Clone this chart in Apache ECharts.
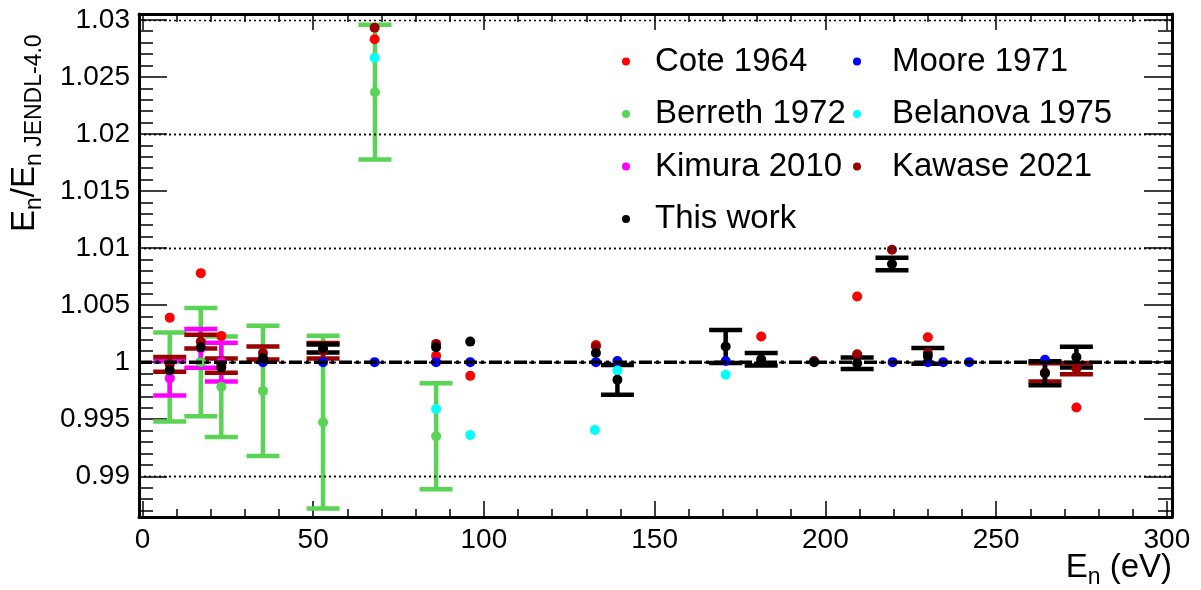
<!DOCTYPE html>
<html>
<head>
<meta charset="utf-8">
<script src="https://cdn.jsdelivr.net/npm/echarts@6/dist/echarts.min.js"></script>
<style>
  html, body { margin: 0; padding: 0; background: #fff; }
  #chart { width: 1201px; height: 590px; }
</style>
</head>
<body>
<div id="chart"></div>
<script>
// En / En(JENDL-4.0) ratio vs neutron energy

// Cote 1964
const coteE = [8.0, 17.1, 23.1, 68.0, 86.0, 96.0, 132.8, 181.2, 209.3, 230.0, 273.5];
const coteR = [1.0039, 1.0078, 1.0023, 1.0283, 1.00055, 0.9988, 1.0015, 1.00225, 1.00576, 1.00219, 0.99602];
// Moore 1971
const mooreE = [17.1, 35.3, 52.9, 68.0, 86.0, 96.0, 132.8, 139.1, 170.8, 219.7, 230.0, 234.5, 242.1, 264.3];
const mooreR = [1.0, 1.0, 1.0, 1.0, 1.0, 1.0, 1.0, 1.0001, 1.0001, 1.0, 1.0, 1.0, 1.0, 1.0002];
// Berreth 1972
const berrethE = [8.0, 17.1, 23.1, 35.3, 52.9, 68.1, 86.0];
const berrethR = [0.9987, 1.0000, 0.99785, 0.99748, 0.99474, 1.02366, 0.99351];
const berrethErr = [0.0039, 0.00475, 0.0044, 0.0057, 0.00757, 0.0059, 0.00465];
// Belanova 1975
const belanovaE = [68.0, 86.0, 96.0, 132.5, 139.1, 170.8];
const belanovaR = [1.02667, 0.9959, 0.99362, 0.99406, 0.99926, 0.99889];
// Kimura 2010
const kimuraE = [8.0, 17.1, 23.1];
const kimuraR = [0.99858, 1.0012, 1.0000];
const kimuraErr = [0.0015, 0.0017, 0.0017];
// Kawase 2021
const kawaseE = [8.0, 17.1, 23.1, 35.3, 52.9, 68.0, 86.0, 132.8, 196.7, 209.3, 219.5, 230.0, 264.3, 273.5];
const kawaseR = [0.9998, 1.0018, 0.9997, 1.0008, 1.0010, 1.0293, 1.0016, 1.0014, 1.0001, 1.0007, 1.00985, 1.0008, 0.9991, 0.99943];
const kawaseErr = [0.00065, 0.0006, 0.00063, 0.00057, 0.00068, 0, 0, 0, 0, 0, 0, 0, 0.0008, 0.0005];
// This work
const thisE = [8.0, 17.1, 23.1, 35.3, 52.9, 86.0, 96.0, 132.8, 139.1, 170.8, 181.2, 196.7, 209.3, 219.5, 230.0, 264.3, 273.5];
const thisR = [0.9993, 1.0013, 0.99953, 1.00035, 1.0012, 1.0013, 1.0018, 1.0008, 0.99845, 1.00137, 1.00026, 1.0, 0.9999, 1.0086, 1.00055, 0.99903, 1.00044];
const thisErr = [0, 0, 0, 0, 0.00035, 0, 0, 0, 0.0013, 0.00145, 0.00055, 0, 0.0005, 0.00054, 0.0007, 0.00105, 0.0009];

// axes
const xMin = -1, xMax = 301.5;
const yMin = 0.98643, yMax = 1.03051;
const xMajor = [0, 50, 100, 150, 200, 250, 300];
const yMajor = [0.99, 0.995, 1, 1.005, 1.01, 1.015, 1.02, 1.025, 1.03];
const refValue = 1;

let xMinor = [];
for (let i = 0; i <= 300; i += 10) {
  if (i % 50 !== 0) xMinor.push(i);
}
let yMinor = [];
for (let i = 987; i <= 1030; i++) {
  if (i % 5 !== 0) yMinor.push(i / 1000);
}

const FONT = 'Liberation Sans';

function pairs(xs, ys, es) {
  return xs.map((x, i) => es ? [x, ys[i], es[i]] : [x, ys[i]]);
}

function xAx(pos, ticks, len, label, line) {
  return {
    type: 'value', position: pos, min: xMin, max: xMax,
    axisLine: { show: line, onZero: false, lineStyle: { color: '#000', width: 3 } },
    axisTick: { show: true, inside: true, length: len, customValues: ticks, lineStyle: { color: '#000', width: 1.5 } },
    axisLabel: label ? { show: true, customValues: ticks, color: '#000', fontSize: 28, fontFamily: FONT, margin: 9 } : { show: false },
    splitLine: { show: false }
  };
}

function yAx(pos, ticks, len, label, line) {
  return {
    type: 'value', position: pos, min: yMin, max: yMax,
    axisLine: { show: line, onZero: false, lineStyle: { color: '#000', width: 3 } },
    axisTick: { show: true, inside: true, length: len, customValues: ticks, lineStyle: { color: '#000', width: 1.5 } },
    axisLabel: label ? {
      show: true, customValues: ticks, color: '#000', fontSize: 28, fontFamily: FONT, margin: 9,
      formatter: v => String(+v.toFixed(3))
    } : { show: false },
    splitLine: { show: false }
  };
}

// error bar with caps
function errSeries(name, data, color) {
  return {
    name: name, type: 'custom', data: data, silent: true,
    encode: { x: 0, y: 1 },
    renderItem: function (params, api) {
      let x = api.value(0), y = api.value(1), e = api.value(2);
      if (!e) return;
      let top = api.coord([x, y + e]);
      let bot = api.coord([x, y - e]);
      let hw = 16.5;
      let style = { stroke: color, lineWidth: 4.5 };
      return {
        type: 'group',
        children: [
          { type: 'line', shape: { x1: top[0], y1: top[1], x2: bot[0], y2: bot[1] }, style: style },
          { type: 'line', shape: { x1: top[0] - hw, y1: top[1], x2: top[0] + hw, y2: top[1] }, style: style },
          { type: 'line', shape: { x1: bot[0] - hw, y1: bot[1], x2: bot[0] + hw, y2: bot[1] }, style: style }
        ]
      };
    }
  };
}

function dots(name, data, color) {
  return {
    name: name, type: 'scatter', data: data, symbol: 'circle', symbolSize: 10,
    itemStyle: { color: color, opacity: 1 }, silent: true
  };
}

// titles with subscripts, pieces laid out with canvas text widths (top aligned)
let ctx = document.createElement('canvas').getContext('2d');
function textRun(parts, size, subSize, subDrop) {
  let x = 0;
  let out = [];
  parts.forEach(p => {
    let s = p.sub ? subSize : size;
    ctx.font = s + 'px "' + FONT + '"';
    out.push({
      type: 'text', x: x, y: p.sub ? subDrop : 0,
      style: { text: p.t, font: s + 'px "' + FONT + '"', fill: '#000', verticalAlign: 'top' }
    });
    x += ctx.measureText(p.t).width;
  });
  return { children: out, width: x };
}

let yTitle = textRun([{ t: 'E' }, { t: 'n', sub: true }, { t: '/E' }, { t: 'n JENDL-4.0', sub: true }], 33, 23, 15);
let xTitle = textRun([{ t: 'E' }, { t: 'n', sub: true }, { t: ' (eV)' }], 33, 23, 15);

let chart = echarts.init(document.getElementById('chart'), null, { renderer: 'canvas' });

let legendText = { color: '#000', fontSize: 33, fontFamily: FONT, lineHeight: 33 };

let option = {
  animation: false,
  backgroundColor: '#fff',
  grid: { left: 139, right: 29, top: 14, bottom: 73 },
  xAxis: [
    xAx('bottom', xMajor, 16, true, true),
    xAx('bottom', xMinor, 8, false, false),
    xAx('top', xMajor, 16, false, true),
    xAx('top', xMinor, 8, false, false)
  ],
  yAxis: [
    yAx('left', yMajor, 28, true, true),
    yAx('left', yMinor, 14, false, false),
    yAx('right', yMajor, 28, false, true),
    yAx('right', yMinor, 14, false, false)
  ],
  legend: [{
    orient: 'vertical', left: 617, top: 40, itemGap: 19.5,
    itemWidth: 8, itemHeight: 8, icon: 'circle', selectedMode: false,
    textStyle: Object.assign({ padding: [0, 0, 0, 20] }, legendText),
    data: ['Cote 1964', 'Berreth 1972', 'Kimura 2010', 'This work']
  }, {
    orient: 'vertical', left: 848, top: 40, itemGap: 19.5,
    itemWidth: 8, itemHeight: 8, icon: 'circle', selectedMode: false,
    textStyle: Object.assign({ padding: [0, 0, 0, 26] }, legendText),
    data: ['Moore 1971', 'Belanova 1975', 'Kawase 2021']
  }],
  graphic: [{
    type: 'group', x: 8, y: 232, rotation: Math.PI / 2,
    children: yTitle.children
  }, {
    type: 'group', x: 1172 - xTitle.width, y: 551,
    children: xTitle.children
  }],
  series: [
    {
      name: 'grid', type: 'line', data: [], silent: true,
      markLine: {
        silent: true, symbol: 'none', label: { show: false },
        lineStyle: { color: '#000', width: 1.3, type: [2, 3] },
        data: yMajor.map(v => ({ yAxis: v }))
      }
    },
    {
      name: 'ref', type: 'line', data: [[xMin, refValue], [xMax, refValue]], symbol: 'none', silent: true,
      lineStyle: { color: '#000', width: 3.5, type: [13, 4, 3, 5] }
    },
    dots('Cote 1964', pairs(coteE, coteR), '#ff0000'),
    dots('Moore 1971', pairs(mooreE, mooreR), '#0000ff'),
    errSeries('Berreth err', pairs(berrethE, berrethR, berrethErr), '#59d454'),
    dots('Berreth 1972', pairs(berrethE, berrethR), '#59d454'),
    dots('Belanova 1975', pairs(belanovaE, belanovaR), '#00ffff'),
    errSeries('Kimura err', pairs(kimuraE, kimuraR, kimuraErr), '#ff00ff'),
    dots('Kimura 2010', pairs(kimuraE, kimuraR), '#ff00ff'),
    errSeries('Kawase err', pairs(kawaseE, kawaseR, kawaseErr), '#990000'),
    dots('Kawase 2021', pairs(kawaseE, kawaseR), '#990000'),
    errSeries('This work err', pairs(thisE, thisR, thisErr), '#000000'),
    dots('This work', pairs(thisE, thisR), '#000000')
  ]
};

chart.setOption(option);
</script>
</body>
</html>
